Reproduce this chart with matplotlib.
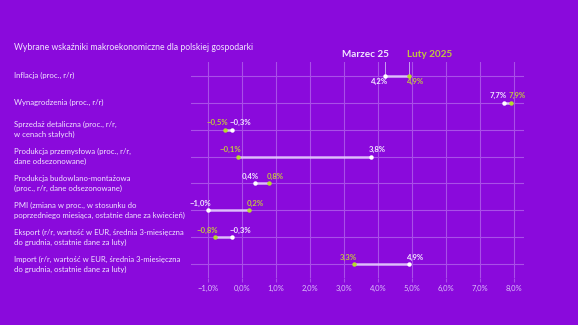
import matplotlib
matplotlib.use("Agg")
import matplotlib.pyplot as plt
import numpy as np
from matplotlib.transforms import offset_copy

plt.rcParams['font.family'] = ['Lato', 'DejaVu Sans']

categories = [
    "Inflacja (proc., r/r)",
    "Wynagrodzenia (proc., r/r)",
    "Sprzedaż detaliczna (proc., r/r,\nw cenach stałych)",
    "Produkcja przemysłowa (proc., r/r,\ndane odsezonowane)",
    "Produkcja budowlano-montażowa\n(proc., r/r, dane odsezonowane)",
    "PMI (zmiana w proc., w stosunku do\npoprzedniego miesiąca, ostatnie dane za kwiecień)",
    "Eksport (r/r, wartość w EUR, średnia 3-miesięczna\ndo grudnia, ostatnie dane za luty)",
    "Import (r/r, wartość w EUR, średnia 3-miesięczna\ndo grudnia, ostatnie dane za luty)",
]
marzec = [4.2, 7.7, -0.3, 3.8, 0.4, -1.0, -0.3, 4.9]
luty = [4.9, 7.9, -0.5, -0.1, 0.8, 0.2, -0.8, 3.3]
xticks = [-1, 0, 1, 2, 3, 4, 5, 6, 7, 8]
series_names = ["Marzec 25", "Luty 2025"]
title = "Wybrane wskaźniki makroekonomiczne dla polskiej gospodarki"

BG = '#8a0adc'
GRID = '#a94fe8'
WHITE = '#ffffff'
WTXT = '#f2e6ff'
GREEN = '#b5dc2a'
GTXT = '#c2c440'
LINE = '#e8d2ff'

def fmt(v):
    s = f"{abs(v):.1f}".replace('.', ',') + '%'
    return ('\u2212' + s) if v < 0 else s

fig = plt.figure(figsize=(5.78, 3.25), dpi=100, facecolor=BG)
ax = fig.add_axes([0.330, 0.146, 0.577, 0.662])
ax.set_facecolor(BG)
n = len(categories)
ax.set_xlim(-1.5, 8.3)
ax.set_ylim(n - 0.5, -0.5)

for x in xticks:
    ax.axvline(x, color=GRID, lw=0.8, zorder=0)
for i in range(n):
    ax.axhline(i, color=GRID, lw=0.8, zorder=0)

for s in ax.spines.values():
    s.set_visible(False)
ax.set_yticks([])
ax.set_xticks(xticks)
ax.set_xticklabels([fmt(float(x)) for x in xticks], color='#dcc0fa', fontsize=5.5)
ax.tick_params(axis='x', length=3, color=GRID, pad=2, width=0.8)

for i, (m, l) in enumerate(zip(marzec, luty)):
    ax.plot([m, l], [i, i], color=LINE, lw=1.8, alpha=0.85, zorder=2, solid_capstyle='butt')
    ax.plot(m, i, 'o', color=WHITE, ms=3.2, zorder=3, mec='none')
    ax.plot(l, i, 'o', color=GREEN, ms=3.2, zorder=3, mec='none')
    dy = -6 if i == 0 else 7
    for v, col in ((m, WTXT), (l, GTXT)):
        other = l if v == m else m
        if v <= other:
            ha, dx = 'right', 3
        else:
            ha, dx = 'left', -2
        tr = offset_copy(ax.transData, fig=fig, x=dx, y=dy, units='dots')
        ax.text(v, i, fmt(v), transform=tr, ha=ha, va='center', fontsize=5.6,
                fontweight='bold', color=col, zorder=4)

# legend connectors and labels
m0, l0 = marzec[0], luty[0]
ax.plot([m0, m0], [-0.5, 0], color='#c9a0f0', lw=0.7, zorder=1)
ax.plot([l0, l0], [-0.5, 0], color='#c9a0f0', lw=0.7, zorder=1)
ax.text(m0, -0.5, series_names[0], transform=offset_copy(ax.transData, fig=fig, x=4, y=3, units='dots'),
        ha='right', va='bottom', fontsize=7.2, fontweight='bold', color=WTXT)
ax.text(l0, -0.5, series_names[1], transform=offset_copy(ax.transData, fig=fig, x=-2, y=3, units='dots'),
        ha='left', va='bottom', fontsize=7.2, fontweight='bold', color=GTXT)

# row labels
for i, c in enumerate(categories):
    y = ax.transData.transform((0, i))[1]
    yf = fig.transFigure.inverted().transform((0, y))[1]
    fig.text(0.024, yf, c, ha='left', va='center', fontsize=5.6, color=WTXT, linespacing=1.45)

fig.text(0.024, 1 - 47 / 325, title, ha='left', va='center', fontsize=6.2, color=WTXT)

fig.savefig('out.png', dpi=100, facecolor=BG)
